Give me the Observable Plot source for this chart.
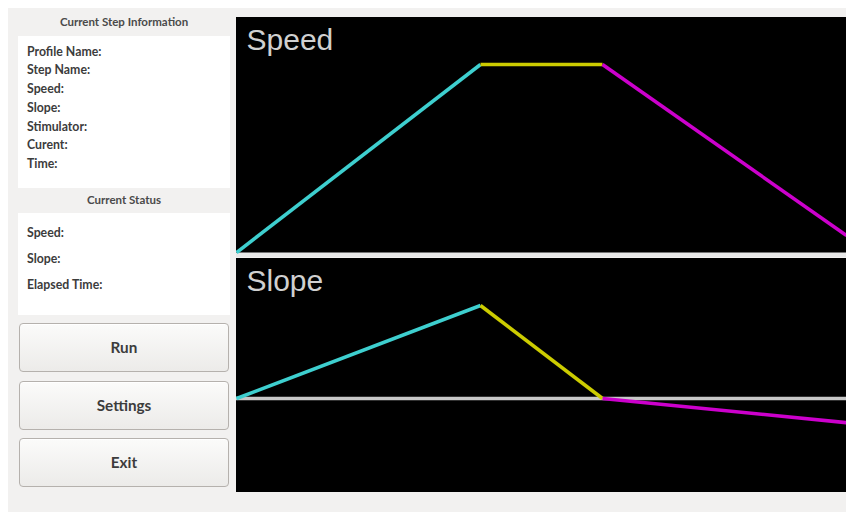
<!DOCTYPE html>
<html>
<head>
<meta charset="utf-8">
<script src="https://cdn.jsdelivr.net/npm/d3@7"></script>
<script src="https://cdn.jsdelivr.net/npm/@observablehq/plot@0.6"></script>
<style>
  html, body { margin: 0; padding: 0; background: #ffffff; width: 846px; height: 512px; overflow: hidden; }
  #win { position: absolute; left: 8px; top: 8px; width: 838px; height: 504px; background: #f2f1f0; }
  .hdr { position: absolute; left: 18px; width: 212px; text-align: center; font: bold 11.5px Lato, "Noto Sans", sans-serif; color: #4a4a4a; line-height: 12px; }
  .box { position: absolute; left: 18px; width: 212px; background: #ffffff; }
  .lbl { position: absolute; left: 27px; font: bold 12.3px Lato, "Noto Sans", sans-serif; color: #3c3c3c; line-height: 14px; white-space: nowrap; }
  .btn { position: absolute; left: 19px; width: 208px; border: 1px solid #b5b1ad; border-radius: 4px;
         background: linear-gradient(#fbfbfa, #ecebe9); box-shadow: inset 0 1px 0 #ffffff;
         font: bold 15.3px Lato, "Noto Sans", sans-serif; color: #3c3c3c; text-align: center; }
  #speed { position: absolute; left: 236px; top: 17px; }
  #slope { position: absolute; left: 236px; top: 258px; }
  svg { display: block; }
</style>
</head>
<body>
<div id="win"></div>

<div class="hdr" style="top:16px">Current Step Information</div>
<div class="box" style="top:36px;height:152px"></div>
<div id="info1"></div>

<div class="hdr" style="top:194px">Current Status</div>
<div class="box" style="top:213px;height:102px"></div>
<div id="info2"></div>

<div id="buttons"></div>

<div id="speed"></div>
<div id="slope"></div>

<script>
// ---- data ----
const stepLabels = ["Profile Name:", "Step Name:", "Speed:", "Slope:", "Stimulator:", "Curent:", "Time:"];
const statusLabels = ["Speed:", "Slope:", "Elapsed Time:"];
const buttonLabels = ["Run", "Settings", "Exit"];

const times  = [0, 10, 15, 25];      // step boundaries (minutes)
const speeds = [0, 10, 10, 0.9];     // speed at each boundary
const slopes = [0, 5, 0, -1.3];      // slope at each boundary
const stepColors = ["#3ecfcf", "#cccc00", "#cc00cc"];

// ---- left panel ----
const info1 = document.getElementById("info1");
stepLabels.forEach((t, i) => {
  const d = document.createElement("div");
  d.className = "lbl"; d.textContent = t;
  d.style.top = (44.7 + i * 18.7) + "px";
  info1.appendChild(d);
});
const info2 = document.getElementById("info2");
statusLabels.forEach((t, i) => {
  const d = document.createElement("div");
  d.className = "lbl"; d.textContent = t;
  d.style.top = (225.7 + i * 26.3) + "px";
  info2.appendChild(d);
});
const btns = document.getElementById("buttons");
const btnTops = [323, 381, 438];
buttonLabels.forEach((t, i) => {
  const d = document.createElement("div");
  d.className = "btn"; d.textContent = t;
  d.style.top = btnTops[i] + "px";
  d.style.height = "47px"; d.style.lineHeight = "47px";
  btns.appendChild(d);
});

// ---- charts ----
const segs = (vals) => d3.range(times.length - 1).map(i => ({
  step: i, t0: times[i], t1: times[i + 1], v0: vals[i], v1: vals[i + 1], color: stepColors[i]
}));

function panel(title, vals, opts) {
  return Plot.plot({
    width: 610,
    height: opts.height,
    margin: 0,
    style: { background: "#000000", overflow: "hidden" },
    x: { domain: [times[0], times[times.length - 1]], range: [0, 610], axis: null },
    y: { domain: opts.ydomain, range: opts.yrange, axis: null },
    marks: [
      Plot.ruleY([0], { stroke: opts.ruleColor, strokeWidth: opts.ruleWidth, dy: opts.ruleDy }),
      Plot.link(segs(vals), {
        x1: "t0", y1: "v0", x2: "t1", y2: "v1",
        stroke: d => d.color, strokeWidth: 3.5, strokeLinecap: "butt"
      }),
      Plot.text([title], {
        frameAnchor: "top-left", textAnchor: "start", lineAnchor: "top",
        dx: 10, dy: 11, fill: "#d0d0d0", fontSize: 30,
        fontFamily: "'Liberation Sans', Arial, sans-serif"
      })
    ]
  });
}

document.getElementById("speed").appendChild(panel("Speed", speeds, {
  height: 240, ydomain: [0, 10], yrange: [235, 47],
  ruleColor: "#e8e8e8", ruleWidth: 5, ruleDy: 2.5
}));
document.getElementById("slope").appendChild(panel("Slope", slopes, {
  height: 234, ydomain: [0, 5], yrange: [140, 47],
  ruleColor: "#c8c8c8", ruleWidth: 3.5, ruleDy: 0
}));
</script>
</body>
</html>
